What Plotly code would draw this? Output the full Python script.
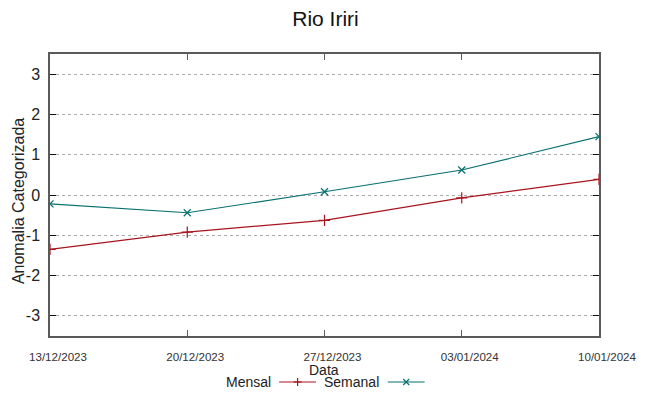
import plotly.graph_objects as go

dates = ["2023-12-13", "2023-12-20", "2023-12-27", "2024-01-03", "2024-01-10"]
tick_labels = ["13/12/2023", "20/12/2023", "27/12/2023", "03/01/2024", "10/01/2024"]
mensal = [-1.35, -0.92, -0.63, -0.07, 0.39]
semanal = [-0.22, -0.44, 0.08, 0.62, 1.45]
y_ticks = [-3, -2, -1, 0, 1, 2, 3]
y_tick_labels = ["-3", "-2", "-1", "0", "1", "2", "3"]

RED = "#a8141e"
TEAL = "#087070"
AXC = "#5a5a5a"
FONT = "Liberation Sans"

# page is rendered with an 8px body margin; figure size compensates
W, H = 641, 388
L, R, T, B = 42, 48, 46, 60
PW, PH = W - L - R, H - T - B
PLEFT = L + 8          # plot left edge in page pixels
PBOT = T + PH + 8      # plot bottom edge in page pixels

fig = go.Figure()
fig.add_trace(go.Scatter(x=dates, y=mensal, mode="lines+markers", name="Mensal",
                         line=dict(color=RED, width=1.2),
                         marker=dict(symbol="cross-thin", size=8, line=dict(color=RED, width=1.2))))
fig.add_trace(go.Scatter(x=dates, y=semanal, mode="lines+markers", name="Semanal",
                         line=dict(color=TEAL, width=1.2),
                         marker=dict(symbol="x-thin", size=7, line=dict(color=TEAL, width=1.2))))

fig.update_layout(
    width=W, height=H,
    margin=dict(l=L, r=R, t=T, b=B),
    paper_bgcolor="white", plot_bgcolor="white",
    showlegend=False,
    font=dict(family=FONT, color="#222"),
    title=dict(text="Rio Iriri", x=(PW / 2 + L) / W, xanchor="center", y=0.973, yanchor="middle",
               font=dict(size=21, family=FONT, color="#111")),
)
fig.update_xaxes(
    type="date", range=[dates[0], dates[-1]],
    tickvals=dates, ticktext=tick_labels,
    ticks="inside", ticklen=6, tickcolor=AXC, tickwidth=1,
    showline=True, linecolor=AXC, linewidth=1.5, mirror="allticks",
    showgrid=False, zeroline=False,
    tickfont=dict(family=FONT, size=11.6, color="#333"),
    ticklabelstandoff=9, ticklabelshift=8,
)
fig.update_yaxes(
    range=[-3.5, 3.5], tickvals=y_ticks, ticktext=y_tick_labels,
    ticks="inside", ticklen=6, tickcolor="#111", tickwidth=1,
    showline=True, linecolor=AXC, linewidth=1.5, mirror="allticks",
    showgrid=True, gridcolor="#aaaaaa", griddash="dot", gridwidth=1,
    zeroline=False,
    tickfont=dict(family=FONT, size=16, color="#222"),
    ticklabelstandoff=5,
)

def pxx(x):
    return (x - PLEFT) / PW
def pxy(y):
    return (PBOT - y) / PH

# axis titles
fig.add_annotation(text="Data", xref="paper", yref="paper", x=pxx(325), y=pxy(370),
                   xanchor="center", yanchor="middle", showarrow=False,
                   font=dict(size=14, family=FONT, color="#222"))
fig.add_annotation(text="Anomalia Categorizada", xref="paper", yref="paper",
                   x=pxx(19), y=pxy(201), xanchor="center", yanchor="middle",
                   textangle=-90, showarrow=False,
                   font=dict(size=16, family=FONT, color="#222"))

# legend (gnuplot style: text then sample); positions in page pixels
ly = 382
legend_items = [("Mensal", RED, 274, 280, 317, "plus"), ("Semanal", TEAL, 382, 389, 426, "x")]
for name, col, tx, x0, x1, kind in legend_items:
    fig.add_annotation(text=name, xref="paper", yref="paper",
                       x=pxx(tx), y=pxy(ly),
                       xanchor="right", yanchor="middle", showarrow=False,
                       font=dict(size=14, family=FONT, color="#222"))
    fig.add_shape(type="line", xref="paper", yref="paper",
                  x0=pxx(x0), x1=pxx(x1), y0=pxy(ly), y1=pxy(ly),
                  line=dict(color=col, width=1.2))
    cx = (x0 + x1) / 2
    if kind == "plus":
        segs = [(cx - 4, ly, cx + 4, ly), (cx, ly - 4, cx, ly + 4)]
    else:
        segs = [(cx - 3, ly - 3, cx + 3, ly + 3), (cx - 3, ly + 3, cx + 3, ly - 3)]
    for a, b, c, d in segs:
        fig.add_shape(type="line", xref="paper", yref="paper",
                      x0=pxx(a), x1=pxx(c), y0=pxy(b), y1=pxy(d),
                      line=dict(color=col, width=1.2))

fig.write_html("out.html")
